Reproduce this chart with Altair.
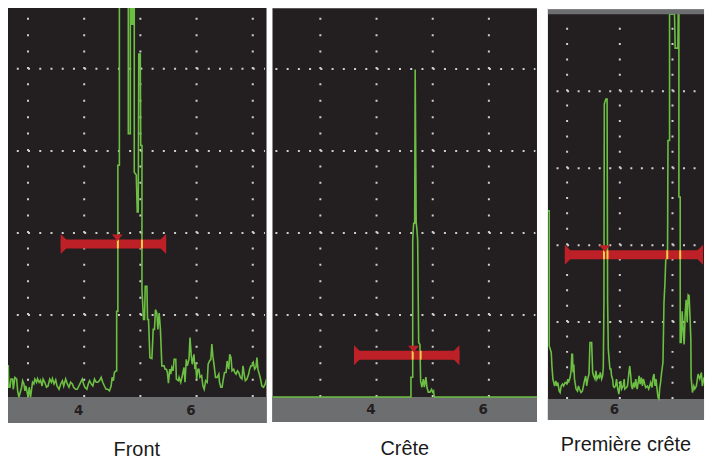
import altair as alt
import pandas as pd

# ---------------- data (x in mm, y in % of screen height) ----------------
front_x = [2.726, 2.749, 2.756, 2.779, 2.797, 2.827, 2.837, 2.867, 2.898, 2.915, 2.938, 2.968, 2.986, 3.004, 3.027, 3.044, 3.062, 3.085, 3.103, 3.121,
           3.145, 3.163, 3.181, 3.204, 3.221, 3.252, 3.269, 3.298, 3.322, 3.351, 3.368, 3.398, 3.429, 3.457, 3.487, 3.517, 3.535, 3.563, 3.593, 3.616,
           3.652, 3.682, 3.712, 3.735, 3.770, 3.800, 3.829, 3.859, 3.889, 3.912, 3.947, 3.977, 4.005, 4.036, 4.066, 4.089, 4.112, 4.147, 4.172, 4.195,
           4.225, 4.253, 4.283, 4.313, 4.342, 4.372, 4.402, 4.430, 4.460, 4.490, 4.519, 4.549, 4.579, 4.597, 4.620, 4.637, 4.668,
           4.678, 4.678, 4.699, 4.699, 4.726, 4.726, 4.885, 4.885, 4.921, 4.921, 4.947, 4.947, 4.974, 4.974, 4.991, 4.991, 5.027, 5.044, 5.062, 5.071,
           5.098, 5.106, 5.128, 5.128,
           5.156, 5.174, 5.186, 5.216, 5.227, 5.245, 5.269, 5.305, 5.328, 5.351, 5.368, 5.393, 5.411, 5.434, 5.457, 5.482, 5.522, 5.540, 5.563, 5.581,
           5.599, 5.623, 5.641, 5.659, 5.682, 5.700, 5.730, 5.740, 5.776, 5.788, 5.818, 5.846, 5.876, 5.894, 5.917, 5.935, 5.965, 5.983, 6.006, 6.023,
           6.053, 6.071, 6.083, 6.101, 6.124, 6.142, 6.160, 6.190, 6.213, 6.236, 6.261, 6.289, 6.306, 6.331, 6.354, 6.372, 6.390, 6.413, 6.437, 6.466,
           6.496, 6.508, 6.531, 6.554, 6.572, 6.597, 6.625, 6.643, 6.673, 6.690, 6.713, 6.731, 6.761, 6.779, 6.802, 6.827, 6.850, 6.880, 6.908, 6.926,
           6.951, 6.968, 6.997, 7.027, 7.044, 7.067, 7.085, 7.110, 7.133, 7.156, 7.174, 7.192, 7.216, 7.239, 7.262, 7.292, 7.322, 7.345]
front_y = [7.6, 7.6, 2.4, 2.4, 4.4, 4.4, 1.9, 4.8, 4.4, 1.5, 0.0, 1.5, 2.4, 4.0, 3.2, 1.5, 2.7, 1.1, 0.0, 2.4,
           0.0, 1.9, 3.6, 3.2, 4.4, 3.6, 4.5, 3.6, 4.1, 2.7, 4.4, 3.6, 2.4, 2.7, 4.4, 3.6, 4.5, 3.2, 4.2, 2.7,
           1.9, 3.2, 4.0, 2.7, 4.4, 3.2, 2.4, 3.6, 3.2, 2.4, 1.9, 1.9, 2.7, 3.6, 4.4, 3.2, 2.4, 1.9, 3.2, 4.0,
           3.2, 2.7, 4.4, 3.6, 3.6, 4.0, 4.8, 3.6, 2.7, 1.9, 1.9, 1.5, 2.7, 4.8, 4.0, 6.0, 6.4,
           6.4, 20.9, 20.9, 56.5, 56.5, 110, 110, 64.2, 64.2, 110, 110, 90.9, 90.9, 110, 110, 54.8, 54.1, 45.1, 45.1, 83.6,
           83.6, 61.3, 61.3, 26.2,
           18.9, 18.9, 27.0, 27.0, 18.9, 18.9, 9.6, 9.4, 16.5, 16.5, 21.3, 20.5, 16.5, 20.5, 16.5, 7.6, 7.6, 6.8, 6.8, 6.0,
           3.4, 6.8, 5.6, 7.2, 6.4, 9.2, 9.2, 4.4, 4.0, 4.8, 3.6, 5.2, 7.2, 3.6, 9.2, 7.6, 9.2, 14.5, 10.0, 8.0,
           10.4, 6.8, 8.4, 4.4, 6.8, 6.8, 4.8, 5.2, 2.7, 1.9, 4.0, 3.6, 8.0, 8.8, 9.2, 12.9, 10.0, 7.6, 4.8, 4.8,
           5.6, 3.6, 2.4, 2.4, 4.0, 6.0, 6.0, 8.8, 6.8, 10.4, 9.6, 6.4, 6.8, 6.0, 5.6, 6.4, 6.0, 4.8, 4.4, 7.6,
           5.2, 4.0, 4.4, 5.6, 6.8, 7.6, 7.6, 8.4, 6.8, 7.2, 9.6, 6.8, 5.6, 4.4, 2.7, 2.4, 3.2, 4.4]

crete_x = [2.248, 4.713, 4.713, 4.744, 4.744, 4.761, 4.779, 4.788, 4.806, 4.820, 4.832, 4.850, 4.873, 4.885, 4.908, 4.933,
           4.951, 4.979, 4.997, 5.021, 5.050, 5.080, 5.098, 5.115, 5.128, 6.956]
crete_y = [0, 0, 4.85, 4.85, 38.3, 42.4, 42.4, 79.9, 42.7, 40.7, 38.3, 13.3, 12.8, 3.9, 2.4, 4.4,
           2.4, 4.85, 2.4, 1.2, 1.2, 1.9, 1.2, 1.5, 0, 0]

prem_x = [4.736, 4.761, 4.761, 4.799, 4.812, 4.831, 4.863, 4.887, 4.906, 4.925, 4.949, 4.968, 4.987, 5.014, 5.033, 5.063, 5.095, 5.114, 5.127, 5.157,
          5.176, 5.189, 5.202, 5.214, 5.227, 5.240, 5.270, 5.297, 5.316, 5.334, 5.365, 5.391, 5.410, 5.429, 5.453, 5.472, 5.491, 5.516, 5.534, 5.566,
          5.585, 5.604, 5.629, 5.648, 5.666, 5.693, 5.712, 5.731, 5.755, 5.774, 5.787, 5.799, 5.806, 5.836, 5.859, 5.868, 5.882, 5.912, 5.931, 5.944,
          5.963, 5.976, 5.995, 6.019, 6.038, 6.057, 6.082, 6.100, 6.119, 6.133, 6.165, 6.183, 6.195, 6.227, 6.246, 6.270, 6.289, 6.308, 6.321, 6.340,
          6.359, 6.383, 6.402, 6.429, 6.448, 6.466, 6.485, 6.510, 6.529, 6.548, 6.572, 6.591, 6.623, 6.648, 6.666, 6.685, 6.712, 6.731, 6.749, 6.768,
          6.787, 6.806, 6.825, 6.844, 6.855, 6.874, 6.893, 6.919, 6.938, 6.957, 6.976, 7.006, 7.014, 7.044, 7.044, 7.138, 7.151, 7.202, 7.208, 7.221,
          7.221, 7.246, 7.246, 7.265, 7.283, 7.302, 7.321, 7.340, 7.359, 7.378, 7.397, 7.415, 7.434, 7.448, 7.453, 7.478, 7.504, 7.523, 7.553, 7.585,
          7.617, 7.648, 7.666, 7.693, 7.723, 7.742, 7.774, 7.799, 7.831, 7.849]
prem_y = [48.9, 48.9, 13.8, 12.1, 8.6, 5.2, 3.4, 4.7, 3.4, 4.3, 2.1, 1.7, 3.4, 3.9, 3.4, 4.3, 3.9, 5.2, 4.3, 5.6,
          7.3, 11.6, 11.6, 6.9, 9.0, 5.2, 2.6, 2.1, 3.4, 2.6, 1.7, 2.1, 3.4, 4.7, 6.0, 3.4, 5.2, 6.5, 14.7, 14.7,
          6.9, 6.0, 5.2, 7.3, 5.2, 6.0, 5.6, 6.9, 5.2, 6.0, 8.2, 25.0, 76.7, 78.0, 78.0, 25.8, 12.9, 7.8, 7.8, 6.0,
          5.2, 3.4, 3.0, 3.4, 5.2, 3.0, 1.3, 3.4, 4.7, 2.6, 3.4, 5.2, 2.6, 3.0, 3.4, 6.5, 8.6, 6.0, 3.4, 2.6,
          4.3, 3.0, 5.2, 2.6, 4.3, 6.0, 3.9, 5.6, 3.4, 5.2, 3.9, 3.0, 3.4, 2.6, 3.4, 4.3, 3.0, 5.6, 6.5, 3.4,
          5.2, 2.6, 0.4, 0.0, 2.6, 4.3, 6.9, 9.5, 25.0, 30.2, 37.9, 38.8, 67.2, 67.2, 100, 100, 91.2, 91.2, 100, 100,
          52.5, 52.5, 14.7, 14.7, 22.8, 18.1, 14.2, 22.0, 25.8, 19.9, 27.1, 26.9, 20.7, 15.5, 5.7, 1.7, 3.4, 2.6, 3.4, 6.5,
          5.2, 6.9, 3.4, 5.2, 4.3, 6.5, 3.9, 5.2, 3.4, 4.3]

titles = ["Front", "Crête", "Première crête"]
x_domains = [[2.726, 7.345], [2.248, 6.956], [4.736, 7.698]]
y_domains = [[-6.3, 95.0], [-6.06, 95.04], [-5.43, 101.82]]
screen_top = [95.0, 94.8, 100.0]
# strips above the screen: (from, to, colour)
top_strips = [[], [[94.8, 95.04, "white"]], [[100.0, 101.3, "#6d6e70"], [101.3, 101.82, "white"]]]
gates = [[3.682, 5.558, 37.3], [3.699, 5.575, 10.2], [5.057, 7.680, 37.5]]
gate_markers = [4.690, 4.761, 5.812]
gate_crossings = [[4.699, 5.128], [4.744, 4.885], [5.80, 5.866, 7.0, 7.246]]
axis_labels = [[4, 6], [4, 6], [6]]
axis_ticks = [[3.52, 5.56], [3.52, 5.56], []]
v_grid = [[3.1, 4.1, 5.1, 6.1, 7.1], [3.1, 4.1, 5.1, 6.1], [5.1, 6.1, 7.1]]
h_grid = [20, 40, 60, 80]
h_dot_start = [2.9, 2.3, 4.9]

# ---------------- style ----------------
SCREEN = "#231f20"
BAND = "#6d6e70"
TRACE = "#6cbf42"
RED = "#bd2026"
YELLOW = "#f3d24a"
DOT = "#cfcfcf"
widths = [261, 266, 157]
heights = [418, 417, 415]
h_dash = [[2, 9.3], [2, 9.3], [2, 8.6]]
v_dash = [[2, 14.5], [2, 14.5], [2, 13.48]]
title_offsets = [17, 17, 15]

LEFT_CAP = "M 0 -1 L 0.6 -0.4 L 0.6 0.4 L 0 1 Z"
RIGHT_CAP = "M 0 -1 L -0.6 -0.4 L -0.6 0.4 L 0 1 Z"
MARKER = "M -0.55 -0.95 L 0.55 -0.95 L 0 -0.3 Z"


def make_panel(i, xs, ys):
    xdom, ydom = x_domains[i], y_domains[i]
    xsc = alt.Scale(domain=xdom, nice=False, zero=False)
    ysc = alt.Scale(domain=ydom, nice=False, zero=False)
    xspan = xdom[1] - xdom[0]

    band_df = pd.DataFrame({"x0": [xdom[0]], "x1": [xdom[1]], "y0": [ydom[0]], "y1": [0.0]})
    band = alt.Chart(band_df).mark_rect(color=BAND).encode(
        x=alt.X("x0:Q", scale=xsc,
                axis=alt.Axis(values=axis_ticks[i], labels=False, domain=False, grid=False,
                              ticks=len(axis_ticks[i]) > 0, tickSize=3, tickColor="#555555",
                              tickWidth=1, title=None)),
        x2="x1:Q",
        y=alt.Y("y0:Q", scale=ysc, axis=None),
        y2="y1:Q",
    )

    # keep the dotted rules a pixel inside the panel so their stroke does not widen the chart
    hg = pd.DataFrame({"y": h_grid, "x0": [h_dot_start[i]] * len(h_grid),
                       "x1": [xdom[1] - xspan * 0.006] * len(h_grid)})
    hgrid = alt.Chart(hg).mark_rule(color=DOT, strokeWidth=2, strokeDash=h_dash[i], strokeCap="butt").encode(
        x=alt.X("x0:Q", scale=xsc, axis=None), x2="x1:Q", y=alt.Y("y:Q", scale=ysc, axis=None))

    vg = pd.DataFrame({"x": v_grid[i], "y0": [0.0] * len(v_grid[i]),
                       "y1": [screen_top[i] - 0.5] * len(v_grid[i])})
    vgrid = alt.Chart(vg).mark_rule(color=DOT, strokeWidth=2, strokeDash=v_dash[i], strokeCap="butt").encode(
        x=alt.X("x:Q", scale=xsc, axis=None), y=alt.Y("y0:Q", scale=ysc, axis=None), y2="y1:Q")

    tr = pd.DataFrame({"x": xs, "y": ys, "i": list(range(len(xs)))})
    trace = alt.Chart(tr).mark_line(color=TRACE, strokeWidth=1.6, clip=True, interpolate="linear").encode(
        x=alt.X("x:Q", scale=xsc, axis=None), y=alt.Y("y:Q", scale=ysc, axis=None), order="i:Q")

    g0, g1, lvl = gates[i]
    gd = pd.DataFrame({"x0": [g0], "x1": [g1], "y": [lvl]})
    gate = alt.Chart(gd).mark_rule(color=RED, strokeWidth=9, strokeCap="butt").encode(
        x=alt.X("x0:Q", scale=xsc, axis=None), x2="x1:Q", y=alt.Y("y:Q", scale=ysc, axis=None))
    lcap = alt.Chart(gd).mark_point(shape=LEFT_CAP, size=400, filled=True, opacity=1, color=RED, strokeWidth=0).encode(
        x=alt.X("x0:Q", scale=xsc, axis=None), y=alt.Y("y:Q", scale=ysc, axis=None))
    rcap = alt.Chart(gd).mark_point(shape=RIGHT_CAP, size=400, filled=True, opacity=1, color=RED, strokeWidth=0).encode(
        x=alt.X("x1:Q", scale=xsc, axis=None), y=alt.Y("y:Q", scale=ysc, axis=None))
    md = pd.DataFrame({"x": [gate_markers[i]], "y": [lvl]})
    marker = alt.Chart(md).mark_point(shape=MARKER, size=400, filled=True, opacity=1, color=RED, strokeWidth=0).encode(
        x=alt.X("x:Q", scale=xsc, axis=None), y=alt.Y("y:Q", scale=ysc, axis=None))
    cd = pd.DataFrame({"x": gate_crossings[i], "y": [lvl] * len(gate_crossings[i])})
    cross = alt.Chart(cd).mark_tick(orient="vertical", size=9, thickness=2, color=YELLOW, opacity=1).encode(
        x=alt.X("x:Q", scale=xsc, axis=None), y=alt.Y("y:Q", scale=ysc, axis=None))

    ld = pd.DataFrame({"x": axis_labels[i], "y": [ydom[0] / 2.0] * len(axis_labels[i]),
                       "t": [str(v) for v in axis_labels[i]]})
    labels = alt.Chart(ld).mark_text(font="Liberation Sans Narrow, DejaVu Sans Condensed, sans-serif",
                                     fontSize=15, fontWeight="bold", color=SCREEN,
                                     align="center", baseline="middle").encode(
        x=alt.X("x:Q", scale=xsc, axis=None), y=alt.Y("y:Q", scale=ysc, axis=None), text="t:N")

    layers = [band, hgrid, vgrid, trace, gate, lcap, rcap, cross, marker, labels]
    for (s0, s1, col) in top_strips[i]:
        sd = pd.DataFrame({"x0": [xdom[0]], "x1": [xdom[1]], "y0": [s0], "y1": [s1]})
        strip = alt.Chart(sd).mark_rect(color=col).encode(
            x=alt.X("x0:Q", scale=xsc, axis=None), x2="x1:Q",
            y=alt.Y("y0:Q", scale=ysc, axis=None), y2="y1:Q")
        layers.append(strip)

    return alt.layer(*layers).properties(
        width=widths[i], height=heights[i],
        title=alt.TitleParams(titles[i], orient="bottom", anchor="middle", fontSize=20,
                              font="Liberation Sans", fontWeight="normal", color="#1a1a1a",
                              offset=title_offsets[i]))


p1 = make_panel(0, front_x, front_y)
p2 = make_panel(1, crete_x, crete_y)
p3 = make_panel(2, prem_x, prem_y)

chart = alt.hconcat(alt.hconcat(p1, p2, spacing=6), p3, spacing=11).properties(
    padding={"left": -1, "top": -2, "right": 0, "bottom": 0},
    background="white",
).configure_view(stroke=None, fill=SCREEN)

chart.save("out.html", embed_options={"renderer": "svg", "actions": False})
